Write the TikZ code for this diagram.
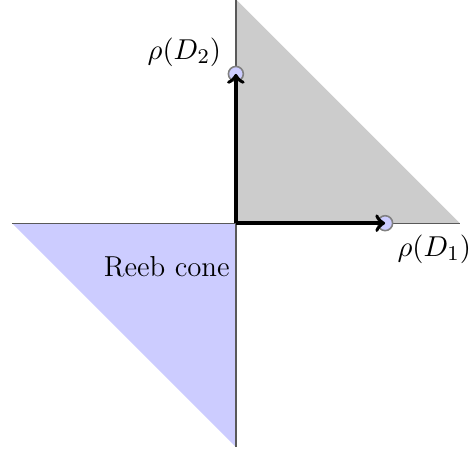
\documentclass[tikz,border=0pt]{standalone}
\begin{document}
\begin{tikzpicture}[x=1cm,y=1cm,
  ray/.style={line width=0.5pt, draw=black!65},
  gen/.style={line width=1.4pt, ->},
  dot/.style={circle, fill=blue!20, draw=gray, line width=0.6pt, minimum size=0.2cm, inner sep=0pt},
  lbl/.style={font=\fontsize{11}{13}\selectfont}]
\useasboundingbox (-3.16,-3.13) rectangle (3.15,2.99);
\coordinate (O) at (0,0);
\coordinate (T) at (0,3);
\coordinate (R) at (3,0);
\coordinate (L) at (-3,0);
\coordinate (B) at (0,-3);
\fill[gray!40] (O) -- (T) -- (R) -- cycle;
\fill[blue!20] (O) -- (L) -- (B) -- cycle;
\draw[ray] (T) -- (B);
\draw[ray] (L) -- (R);
\node[dot] (P1) at (2,0) {};
\node[dot] (P2) at (0,2) {};
\draw[gen] (O) -- (P1.center);
\draw[gen] (O) -- (P2.center);
\node[lbl, anchor=south east, inner sep=2pt] (l2) at (-0.12,2.02) {$\rho(D_2)$};
\node[lbl, anchor=north west, inner sep=2pt] (l1) at (2.09,-0.08) {$\rho(D_1)$};
\node[lbl, anchor=east, inner sep=1pt] (rc) at (-0.04,-0.58) {Reeb cone};
\end{tikzpicture}
\end{document}
